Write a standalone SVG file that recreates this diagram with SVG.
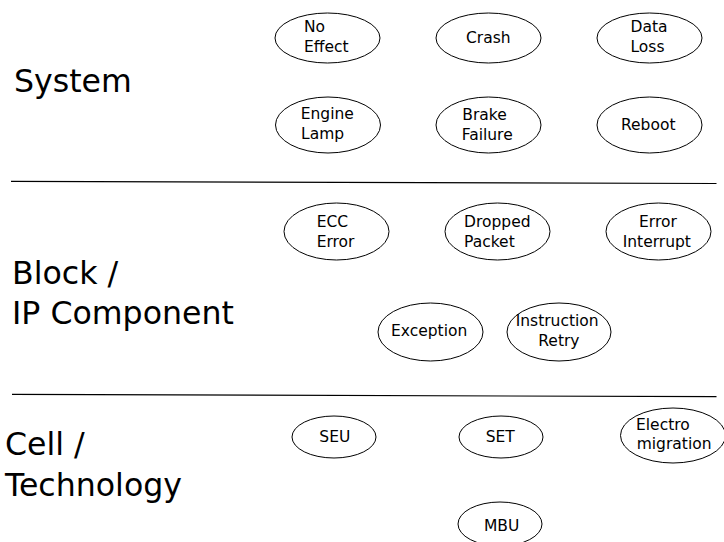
<svg xmlns="http://www.w3.org/2000/svg" width="724" height="542" viewBox="0 0 724 542">
<style>
  .bg { fill: #ffffff; }
  .node ellipse { fill: #ffffff; stroke: #000000; stroke-width: 1; }
  .node text { font-family: "DejaVu Sans", "Liberation Sans", sans-serif; font-size: 15.5px; fill: #000000; }
  .layer { font-family: "DejaVu Sans", "Liberation Sans", sans-serif; font-size: 31.6px; fill: #000000; }
  .sep { stroke: #000000; stroke-width: 1.2; fill: none; }
</style>
<rect class="bg" x="0" y="0" width="724" height="542"/>

<g id="layer-labels">
  <text class="layer" x="14" y="92">System</text>
  <text class="layer" x="12" y="284">Block /</text>
  <text class="layer" x="12" y="324">IP Component</text>
  <text class="layer" x="5" y="455">Cell /</text>
  <text class="layer" x="5" y="496">Technology</text>
</g>

<g id="connectors">
  <line class="sep" x1="11" y1="181.3" x2="716.5" y2="183.5"/>
  <line class="sep" x1="12" y1="394.3" x2="716.5" y2="396.7"/>
</g>

<g id="no-effect" class="node">
  <ellipse cx="327.5" cy="38" rx="52.5" ry="25"/>
  <text x="304" y="32.3">No</text>
  <text x="304" y="52.3">Effect</text>
</g>
<g id="crash" class="node">
  <ellipse cx="488.5" cy="38" rx="52.5" ry="25"/>
  <text x="466" y="43.3">Crash</text>
</g>
<g id="data-loss" class="node">
  <ellipse cx="649.5" cy="38" rx="52.5" ry="25"/>
  <text x="630.5" y="32.3">Data</text>
  <text x="630.5" y="52.3">Loss</text>
</g>
<g id="engine-lamp" class="node">
  <ellipse cx="328" cy="125" rx="52.5" ry="28"/>
  <text x="300.7" y="119.3">Engine</text>
  <text x="301" y="139.3">Lamp</text>
</g>
<g id="brake-failure" class="node">
  <ellipse cx="488.5" cy="125" rx="52.5" ry="28"/>
  <text x="462.3" y="120">Brake</text>
  <text x="461.7" y="140">Failure</text>
</g>
<g id="reboot" class="node">
  <ellipse cx="649.5" cy="125" rx="52.5" ry="28"/>
  <text x="621" y="130">Reboot</text>
</g>

<g id="ecc-error" class="node">
  <ellipse cx="336.5" cy="231.5" rx="52.5" ry="28.5"/>
  <text x="316.7" y="227.3">ECC</text>
  <text x="316.7" y="247.3">Error</text>
</g>
<g id="dropped-packet" class="node">
  <ellipse cx="497.5" cy="231.5" rx="52.5" ry="28.5"/>
  <text x="464" y="227.3">Dropped</text>
  <text x="464" y="247.3">Packet</text>
</g>
<g id="error-interrupt" class="node">
  <ellipse cx="658.5" cy="231.5" rx="52.5" ry="28.5"/>
  <text x="639" y="227.3">Error</text>
  <text x="622.7" y="247.3">Interrupt</text>
</g>
<g id="exception" class="node">
  <ellipse cx="430.5" cy="332" rx="52.5" ry="29"/>
  <text x="391" y="336">Exception</text>
</g>
<g id="instruction-retry" class="node">
  <ellipse cx="559" cy="332" rx="52" ry="29"/>
  <text x="515.7" y="326">Instruction</text>
  <text x="538.3" y="346">Retry</text>
</g>

<g id="seu" class="node">
  <ellipse cx="334" cy="437" rx="42" ry="21"/>
  <text x="319.3" y="442.3">SEU</text>
</g>
<g id="set" class="node">
  <ellipse cx="501" cy="437" rx="42" ry="21"/>
  <text x="485.7" y="442.3">SET</text>
</g>
<g id="electromigration" class="node">
  <ellipse cx="673" cy="435.5" rx="52.5" ry="27.5"/>
  <text x="636" y="430">Electro</text>
  <text x="636.7" y="449">migration</text>
</g>
<g id="mbu" class="node">
  <ellipse cx="500" cy="524" rx="42" ry="22"/>
  <text x="484" y="530.7">MBU</text>
</g>
</svg>
